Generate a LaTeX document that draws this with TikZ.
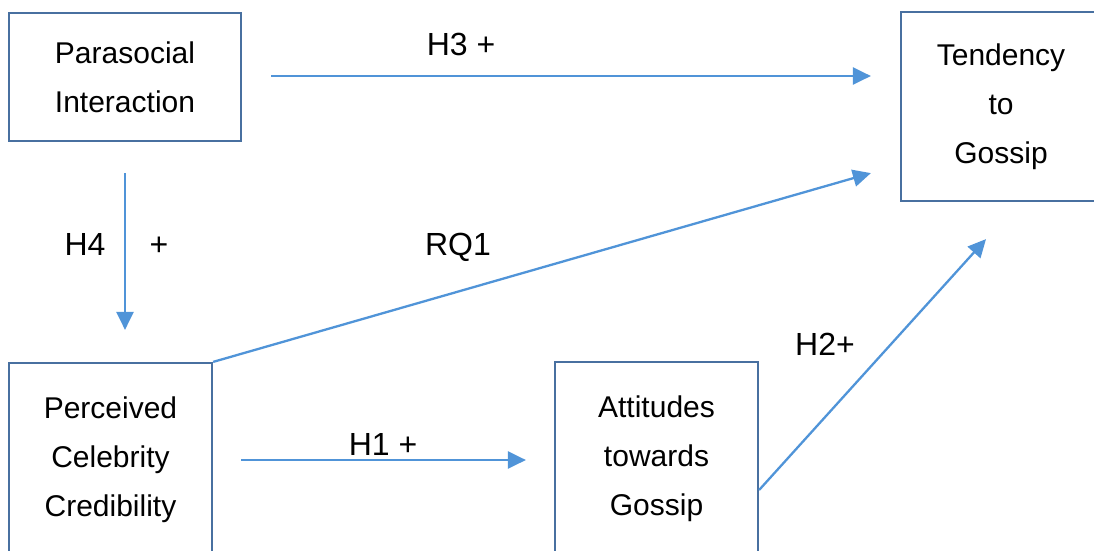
\documentclass[tikz,border=0pt]{standalone}
\usepackage{fontspec}
\setmainfont{Liberation Sans}
\usetikzlibrary{arrows.meta,calc}
\definecolor{boxcol}{RGB}{72,112,160}
\definecolor{arrcol}{RGB}{80,148,216}
\tikzset{
  varbox/.style={draw=boxcol, line width=2.2pt, align=center, inner sep=0pt,
    font=\fontsize{30}{49}\selectfont, text=black},
  arr/.style={draw=arrcol, line width=2.3pt, -{Triangle[length=18pt,width=17pt]}},
  lbl/.style={anchor=base, inner sep=0pt, font=\fontsize{32}{38}\selectfont, text=black}
}
\begin{document}
\begin{tikzpicture}[x=1pt,y=-1pt]
\useasboundingbox (0,0) rectangle (1094,550);
\node[varbox, minimum width=232pt, minimum height=128pt] (pi) at (125,77) {Parasocial\\Interaction};
\node[varbox, minimum width=200pt, minimum height=189pt] (tg) at (1001,106.5) {Tendency\\to\\Gossip};
\node[varbox, minimum width=203pt, minimum height=194pt] (pc) at (110.5,460) {Perceived\\Celebrity\\Credibility};
\node[varbox, minimum width=203pt, minimum height=194pt] (ag) at (656.5,459) {Attitudes\\towards\\Gossip};
% arrows
\draw[arr, shorten <=29pt, shorten >=29pt] ([yshift=1pt]pi.east) -- ([yshift=1pt]pi.east -| tg.west);
\draw[arr, shorten <=31pt, shorten >=32pt] (pi.south) -- (pi.south |- pc.north);
\coordinate (rqend) at ([shift={(-29,-29)}]tg.south west);
\draw[arr] (pc.north east) -- (rqend);
\draw[arr, shorten <=28pt, shorten >=28pt] (pc.east) -- (pc.east -| ag.west);
\coordinate (h2start) at ([shift={(0,31)}]ag.east);
\coordinate (h2end) at ([shift={(-15,37)}]tg.south);
\draw[arr] (h2start) -- (h2end);
% labels
\node[lbl] (l3) at (461,55) {H3 +};
\node[lbl] (l4) at (85,255) {H4};
\node[lbl] (l4p) at (159,255) {+};
\node[lbl] (lrq) at (458,255) {RQ1};
\node[lbl] (l1) at (383,455) {H1 +};
\node[lbl] (l2) at (825,355) {H2+};
\end{tikzpicture}
\end{document}
